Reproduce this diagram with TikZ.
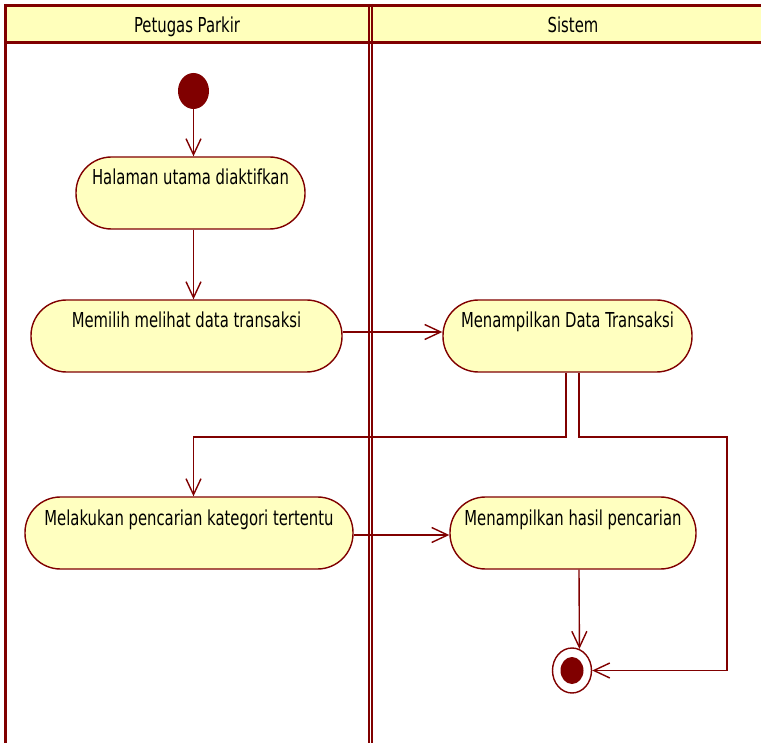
\documentclass[tikz,border=0pt]{standalone}
\usepackage{fontspec}
\setmainfont{DejaVu Sans}[FakeStretch=0.72]
\usetikzlibrary{arrows.meta,shapes.geometric}
\definecolor{umlred}{HTML}{800000}
\definecolor{umlfill}{HTML}{FFFFC0}
\definecolor{headfill}{HTML}{FFFFBB}
\tikzset{
  lane/.style={draw=umlred, line width=3pt},
  divider/.style={draw=umlred, line width=2.3pt},
  lanetitle/.style={anchor=base, inner sep=0pt, font=\fontsize{20.6pt}{24pt}\selectfont},
  activity/.style={draw=umlred, fill=umlfill, line width=1.4pt, rounded corners=35.5pt,
    minimum height=72pt, inner xsep=0pt, inner ysep=0pt, text height=28pt, text depth=44pt,
    font=\fontsize{20.6pt}{24pt}\selectfont},
  flow/.style={draw=umlred, line width=1.4pt,
    -{Straight Barb[length=16pt,width=15pt,line width=1.4pt]}},
  startnode/.style={ellipse, fill=umlred, inner sep=0pt, minimum width=31pt, minimum height=36pt},
  endnode/.style={ellipse, draw=umlred, fill=white, line width=1.4pt, inner sep=0pt,
    minimum width=39pt, minimum height=45pt},
  enddot/.style={ellipse, fill=umlred, inner sep=0pt, minimum width=23pt, minimum height=27pt}
}
\begin{document}
\begin{tikzpicture}[x=1pt,y=-1pt]
\useasboundingbox (0,0) rectangle (761,743);

% swimlane header band
\fill[headfill] (4,5.5) rectangle (761,43);
\draw[lane] (4,5.5) -- (761,5.5);
\draw[lane] (4,43) -- (761,43);
\draw[lane] (5.5,4) -- (5.5,743);
\draw[divider] (369,4) -- (369,743);
\draw[divider] (372.3,4) -- (372.3,743);
\node[lanetitle] (lane1) at (187,33) {Petugas Parkir};
\node[lanetitle] (lane2) at (573,33) {Sistem};

% activities
\node[startnode] (start) at (193.5,91) {};
\node[activity, minimum width=229pt] (halaman) at (190.5,193) {Halaman utama diaktifkan};
\node[activity, minimum width=311pt] (memilih) at (186.5,336) {Memilih melihat data transaksi};
\node[activity, minimum width=249pt] (tampil) at (567.5,336) {Menampilkan Data Transaksi};
\node[activity, minimum width=328pt] (cari) at (189,533) {Melakukan pencarian kategori tertentu};
\node[activity, minimum width=246pt] (hasil) at (573,533) {Menampilkan hasil pencarian};
\node[endnode] (final) at (572,670.5) {};
\node[enddot] (finaldot) at (final.center) {};

% branch points below "Menampilkan Data Transaksi"
\coordinate (bl) at (566,437);
\coordinate (br) at (579,437);
\coordinate (rc) at (727,437);

% control flow
\draw[flow] (start.south) -- (start.south |- halaman.north);
\draw[flow] (halaman.south -| start) -- (memilih.north -| start);
\draw[flow] ([yshift=4pt]memilih.east) -- ([yshift=4pt]memilih.east -| tampil.west);
\draw[flow] (tampil.south -| bl) -- (bl) -- (bl -| start) -- (cari.north -| start);
\draw[flow] (tampil.south -| br) -- (br) -- (rc) -- (rc |- final.east) -- (final.east);
\draw[flow] ([yshift=-2pt]cari.east) -- ([yshift=-2pt]cari.east -| hasil.west);
\draw[flow] (hasil.south -| br) -- (final.71.6);
\end{tikzpicture}
\end{document}
